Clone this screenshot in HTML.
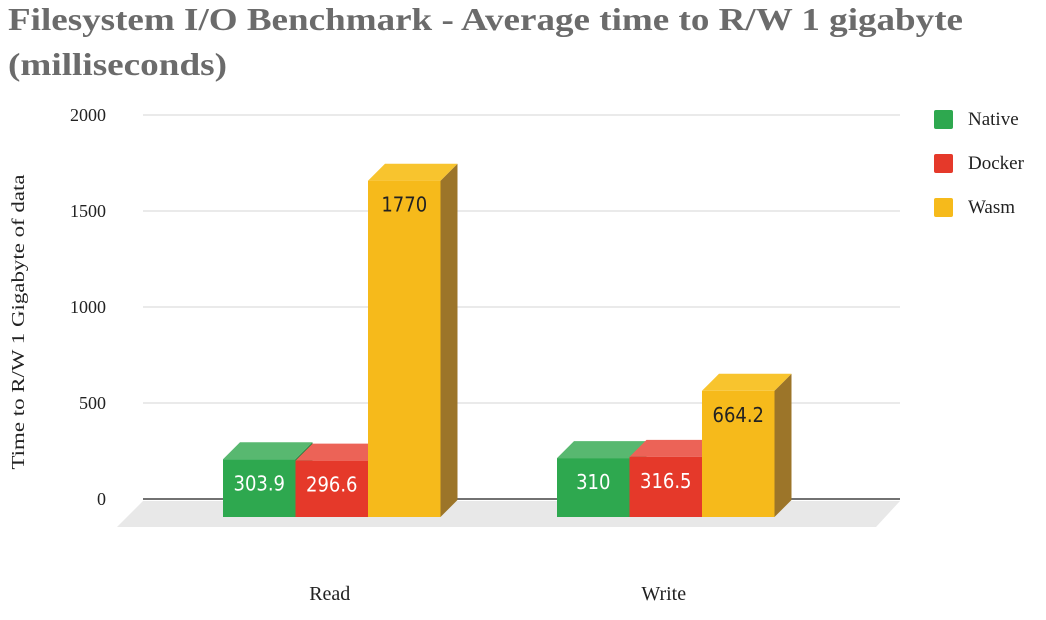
<!DOCTYPE html>
<html><head><meta charset="utf-8"><style>
body{margin:0;background:#fff;width:1046px;height:615px;overflow:hidden}
svg text{font-family:"Liberation Serif",serif}
</style></head><body>
<svg width="1046" height="615">
<text x="8" y="30" font-size="32" font-weight="bold" fill="#6b6b6b" textLength="955" lengthAdjust="spacingAndGlyphs">Filesystem I/O Benchmark - Average time to R/W 1 gigabyte</text>
<text x="8" y="75" font-size="32" font-weight="bold" fill="#6b6b6b" textLength="219" lengthAdjust="spacingAndGlyphs">(milliseconds)</text>
<g id="grid"></g>
<polygon points="143,501 900,501 876,527 117,527" fill="#e8e8e8"/>
<line x1="143" y1="499" x2="900" y2="499" stroke="#444" stroke-width="1.5"/>
<g id="bars"></g>
<text x="24" y="322" font-size="18" transform="rotate(-90 24 322)" text-anchor="middle" fill="#222" textLength="295" lengthAdjust="spacingAndGlyphs">Time to R/W 1 Gigabyte of data</text>
<g id="legend"></g>
</svg>
<script>
const categories=["Read","Write"];
const seriesNames=["Native","Docker","Wasm"];
const nativeVals=[303.9,310];
const dockerVals=[296.6,316.5];
const wasmVals=[1770,664.2];
const yTicks=[0,500,1000,1500,2000];
const NS="http://www.w3.org/2000/svg";
const svg=document.querySelector("svg");
function mk(t,a,p){const e=document.createElementNS(NS,t);for(const k in a)e.setAttribute(k,a[k]);(p||svg).appendChild(e);return e;}
const gridY=v=>499-v*0.192;
const barY=v=>517-v*0.19;
const grid=document.getElementById("grid");
yTicks.forEach(t=>{
 if(t>0){const l=mk("line",{x1:143,x2:900,y1:gridY(t),y2:gridY(t),stroke:"#d6d6d6"},grid);
 
 }
 const tx=mk("text",{x:106,y:gridY(t)+6,"font-size":18,"text-anchor":"end",fill:"#222"},grid);
 tx.textContent=t;
 
 
});
const front=["#2ea84f","#e5392a","#f6ba1b"],top_=["#58b870","#ec6357","#f8c42e"],side=["#1f7a38","#a8291e","#9c7529"];
const groupX=[223,557],bw=72.5,d=17;
const series=[nativeVals,dockerVals,wasmVals];
const bars=document.getElementById("bars");
categories.forEach((c,ci)=>{
 series.forEach((vals,si)=>{
  const x=groupX[ci]+si*bw,y=barY(vals[ci]),b=517;
  const g=mk("g",{},bars);
  
  
  mk("polygon",{points:`${x+bw},${y} ${x+bw+d},${y-d} ${x+bw+d},${b-d} ${x+bw},${b}`,fill:side[si]},g);
  mk("polygon",{points:`${x},${y} ${x+d},${y-d} ${x+bw+d},${y-d} ${x+bw},${y}`,fill:top_[si]},g);
  mk("rect",{x:x,y:y,width:bw,height:b-y,fill:front[si]},g);
  const tx=mk("text",{x:x+bw/2,y:y+31,"font-size":20,"text-anchor":"middle",fill:si==2?"#222":"#fff",style:'font-family:"DejaVu Sans Condensed","Liberation Sans",sans-serif'},g);
  tx.textContent=vals[ci];
  
  
 });
 const cl=mk("text",{x:groupX[ci]+bw*1.5-2,y:600,"font-size":20,"text-anchor":"middle",fill:"#222"});
 cl.textContent=c;
 
 
});
const leg=document.getElementById("legend");
seriesNames.forEach((n,i)=>{
 const g=mk("g",{},leg);
 
 
 mk("rect",{x:934,y:110+i*44,width:19,height:19,rx:2,fill:front[i]},g);
 const t=mk("text",{x:968,y:125+i*44,"font-size":19,fill:"#222"},g);
 t.textContent=n;
});
</script>
</body></html>
